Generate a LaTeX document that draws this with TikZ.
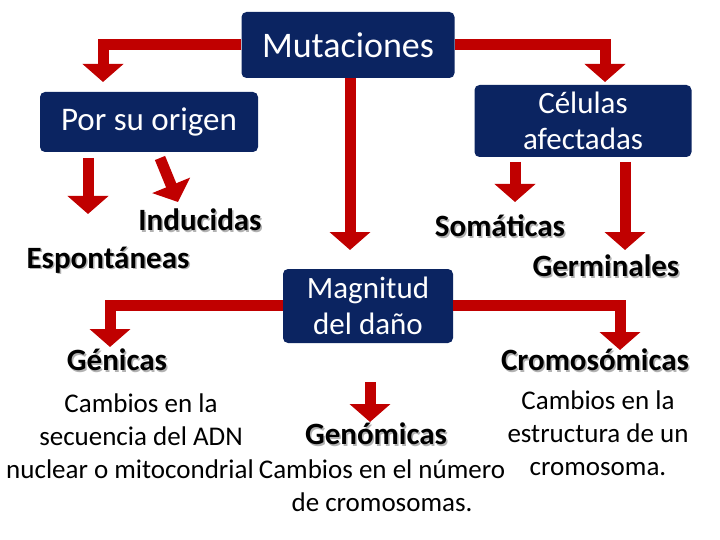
\documentclass[tikz,border=0pt]{standalone}
\usepackage{fontspec}
\setmainfont{Carlito}
\usetikzlibrary{arrows.meta}
\definecolor{navy}{HTML}{0B2461}
\definecolor{ared}{HTML}{C00000}
\begin{document}
\begin{tikzpicture}[x=1pt,y=-1pt,
 box/.style={fill=navy,rounded corners=5pt,text=white,font=\fontsize{31}{36}\selectfont,align=center,inner sep=0},
 lbl/.style={font=\bfseries\fontsize{31}{36}\selectfont,text=black},
 desc/.style={font=\fontsize{27}{33}\selectfont,align=center},
 arr/.style={draw=ared,line width=11pt,-{Triangle[width=40pt,length=18pt]}}]
\useasboundingbox (0,0) rectangle (720,540);
\newcommand\shlbl[3]{\node[lbl,text=black!30] at ([xshift=1.5pt,yshift=-1.5pt]#2) {#3};\node[lbl] (#1) at (#2) {#3};}
\node[box,minimum width=213pt,minimum height=66pt,font=\fontsize{36}{40}\selectfont] (mut) at (348,45) {Mutaciones};
\node[box,minimum width=218pt,minimum height=60pt,font=\fontsize{33}{36}\selectfont] (por) at (149,122) {Por su origen};
\node[box,minimum width=217pt,minimum height=72pt,align=center] (cel) at (583,121) {Células\\afectadas};
\node[box,minimum width=170pt,minimum height=74pt] (mag) at (368,306) {Magnitud\\del daño};
\shlbl{ind}{200,220}{Inducidas}
\shlbl{esp}{108,260}{Espontáneas}
\shlbl{som}{500,226}{Somáticas}
\shlbl{ger}{606,266}{Germinales}
\shlbl{gen}{117,360}{Génicas}
\shlbl{cro}{595,360}{Cromosómicas}
\shlbl{geno}{376,434}{Genómicas}
\node[desc] (d1) at (141,420) {Cambios en la\\secuencia del ADN};
\node[desc] (d1b) at (130,469) {nuclear o mitocondrial};
\node[desc] (d2) at (382,486) {Cambios en el número\\de cromosomas.};
\node[desc] (d3) at (598,433) {Cambios en la\\estructura de un\\cromosoma.};
\coordinate (a1) at (103,82); \coordinate (a2) at (605,82);
\draw[arr] (mut.west) -| (a1);
\draw[arr] (mut.east) -| (a2);
\draw[arr] (mut.south -| 350,0) -- (350,250);
\coordinate (p1) at (88,158); \coordinate (p2) at (88,214);
\coordinate (p3) at (160,158); \coordinate (p4) at (178,202);
\draw[arr] (p1) -- (p2);
\draw[arr] (p3) -- (p4);
\coordinate (c1) at (515,162); \coordinate (c2) at (515,202);
\coordinate (c3) at (625,162); \coordinate (c4) at (625,250);
\draw[arr] (c1) -- (c2);
\draw[arr] (c3) -- (c4);
\coordinate (m1) at (110,347); \coordinate (m2) at (620,350);
\draw[arr] (mag.west |- 0,305) -| (m1);
\draw[arr] (mag.east |- 0,305) -| (m2);
\coordinate (m3) at (370,382); \coordinate (m4) at (370,422);
\draw[arr] (m3) -- (m4);
\end{tikzpicture}
\end{document}
